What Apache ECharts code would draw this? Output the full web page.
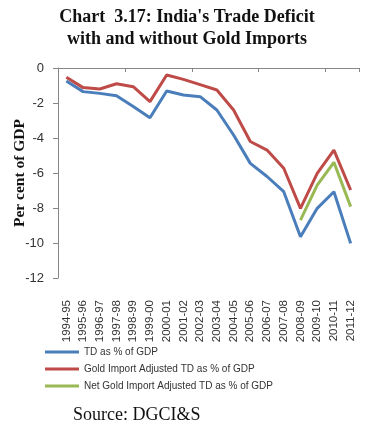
<!DOCTYPE html>
<html>
<head>
<meta charset="utf-8">
<script src="https://cdn.jsdelivr.net/npm/echarts@6/dist/echarts.min.js"></script>
<style>
html,body{margin:0;padding:0;background:#fff;}
#c{width:367px;height:430px;}
</style>
</head>
<body>
<div id="c"></div>
<script>
var categories = ['1994-95','1995-96','1996-97','1997-98','1998-99','1999-00','2000-01','2001-02','2002-03','2003-04','2004-05','2005-06','2006-07','2007-08','2008-09','2009-10','2010-11','2011-12'];
var tdGdp = [-0.74,-1.35,-1.45,-1.58,-2.2,-2.84,-1.31,-1.54,-1.64,-2.4,-3.83,-5.45,-6.2,-7.07,-9.64,-8.02,-7.07,-10.02];
var goldAdj = [-0.53,-1.12,-1.2,-0.9,-1.07,-1.92,-0.4,-0.65,-0.95,-1.26,-2.4,-4.2,-4.69,-5.73,-8.02,-6.02,-4.69,-6.97];
var netGoldAdj = [null,null,null,null,null,null,null,null,null,null,null,null,null,null,-8.69,-6.69,-5.39,-7.92];
var yTicks = [0,-2,-4,-6,-8,-10,-12];
var seriesNames = ['TD as % of GDP','Gold Import Adjusted TD as % of GDP','Net Gold Import Adjusted TD as % of GDP'];

var chart = echarts.init(document.getElementById('c'), null, {renderer:'canvas'});
chart.setOption({
  animation:false,
  backgroundColor:'#fff',
  title:{
    text:"Chart  3.17: India's Trade Deficit\nwith and without Gold Imports",
    left:182, top:1, textAlign:'center',
    textStyle:{fontFamily:'Liberation Serif', fontWeight:'bold', fontSize:18, lineHeight:22, color:'#111'}
  },
  graphic:[{
    type:'text', left:73, top:406,
    style:{text:'Source: DGCI&S', font:'18px "Liberation Serif"', fill:'#111'}
  }],
  legend:{
    orient:'vertical', left:40, top:342,
    icon:'rect', itemWidth:34, itemHeight:3, itemGap:7,
    textStyle:{fontFamily:'Liberation Sans', fontSize:10, color:'#333'},
    data:seriesNames
  },
  grid:{left:58, right:8, top:68, bottom:152, containLabel:false},
  xAxis:[{
    type:'category', data:categories, position:'bottom', boundaryGap:true,
    axisLine:{show:false}, axisTick:{show:false},
    axisLabel:{rotate:90, interval:0, margin:22, fontFamily:'Liberation Sans', fontSize:11.5, color:'#333'}
  },{
    type:'category', data:categories, position:'top', boundaryGap:true,
    axisLine:{show:true, lineStyle:{color:'#868686', width:1}},
    axisTick:{show:true, inside:true, length:4, lineStyle:{color:'#868686'}},
    axisLabel:{show:false}
  }],
  yAxis:{
    type:'value', min:-12, max:0, interval:2,
    name:'Per cent of GDP', nameLocation:'middle', nameGap:30, nameMoveOverlap:false,
    nameTextStyle:{fontFamily:'Liberation Serif', fontWeight:'bold', fontSize:15.5, color:'#111'},
    axisLine:{show:true, lineStyle:{color:'#868686'}},
    axisTick:{show:true, inside:false, length:5, lineStyle:{color:'#868686'}},
    axisLabel:{margin:14, fontFamily:'Liberation Sans', fontSize:13, color:'#333'},
    splitLine:{show:false}
  },
  series:[
    {name:seriesNames[0], type:'line', data:tdGdp, symbol:'none', lineStyle:{width:3, color:'#4A7EBB'}, itemStyle:{color:'#4A7EBB'}},
    {name:seriesNames[1], type:'line', data:goldAdj, symbol:'none', lineStyle:{width:3, color:'#BE4B48'}, itemStyle:{color:'#BE4B48'}},
    {name:seriesNames[2], type:'line', data:netGoldAdj, symbol:'none', lineStyle:{width:3, color:'#98B954'}, itemStyle:{color:'#98B954'}}
  ]
});
</script>
</body>
</html>
